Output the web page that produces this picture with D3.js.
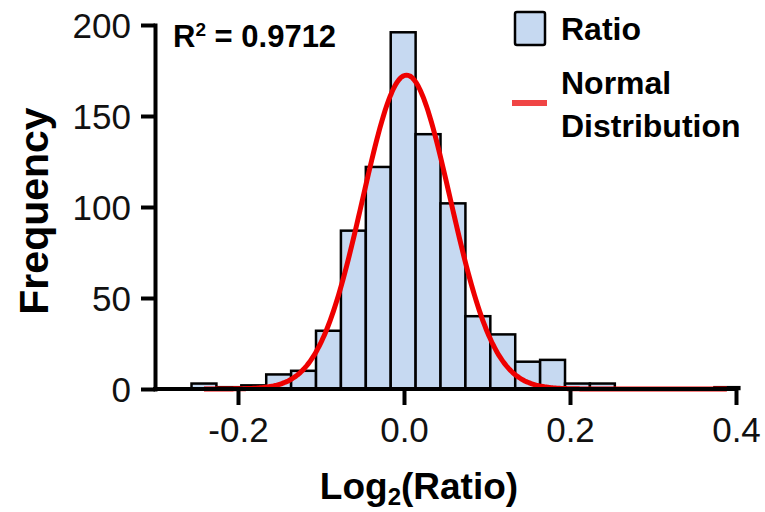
<!DOCTYPE html>
<html>
<head>
<meta charset="utf-8">
<script src="https://cdn.jsdelivr.net/npm/d3@7"></script>
<style>
  body { margin: 0; background: #fff; }
  text { font-family: "Liberation Sans", Arial, sans-serif; }
</style>
</head>
<body>
<div id="chart"></div>
<script>
// histogram bins (centre of each bin) and counts
const binCenters = [-0.241, -0.211, -0.181, -0.151, -0.121, -0.091, -0.061, -0.031, -0.001,
    0.029, 0.059, 0.089, 0.119, 0.149, 0.179, 0.209, 0.239, 0.269, 0.299, 0.329, 0.359, 0.389];
const counts = [3, 1, 2, 8, 10, 32, 87, 122, 196,
    140, 102, 40, 30, 15, 16, 3, 3, 0, 0, 0, 0, 1];
const binWidth = 0.03;

// gaussian fit (normal distribution curve)
const fitMean = 0.003;
const fitSd = 0.0527;
const fitPeak = 172.5;
const rSquared = "0.9712";

const xTicks = [-0.2, 0.0, 0.2, 0.4];
const yTicks = [0, 50, 100, 150, 200];
const legendLabels = ["Ratio", "Normal", "Distribution"];

const width = 765, height = 512;
const svg = d3.select("#chart")
    .append("svg")
    .attr("width", width)
    .attr("height", height);

const xScale = d3.scaleLinear().domain([-0.3, 0.4]).range([155, 736]);
const yScale = d3.scaleLinear().domain([0, 200]).range([389, 25]);

// bars
svg.append("g")
    .selectAll("rect")
    .data(binCenters.map((c, i) => ({c: c, n: counts[i]})).filter(d => d.n > 0))
    .enter()
    .append("rect")
    .attr("x", d => xScale(d.c - binWidth / 2))
    .attr("y", d => yScale(d.n))
    .attr("width", d => xScale(d.c + binWidth / 2) - xScale(d.c - binWidth / 2))
    .attr("height", d => yScale(0) - yScale(d.n))
    .attr("fill", "#c6d9f1")
    .attr("stroke", "#000")
    .attr("stroke-width", 2.5);

// normal curve
const curveX = d3.range(binCenters[0], binCenters[binCenters.length - 1] + 0.0005, 0.002);
const line = d3.line()
    .x(d => xScale(d))
    .y(d => yScale(fitPeak * Math.exp(-Math.pow(d - fitMean, 2) / (2 * fitSd * fitSd))))
    .curve(d3.curveBasis);
svg.append("path")
    .datum(curveX)
    .attr("d", line)
    .attr("fill", "none")
    .attr("stroke", "#ee0000")
    .attr("stroke-width", 5)
    .attr("stroke-linejoin", "round");

// axes
const xAxis = d3.axisBottom(xScale).tickValues(xTicks)
    .tickFormat(d => d3.format(".1f")(d).replace("\u2212", "-"))
    .tickSize(16).tickSizeOuter(0).tickPadding(12);
const gx = svg.append("g").attr("transform", "translate(0,389)").call(xAxis);

const yAxis = d3.axisLeft(yScale).tickValues(yTicks).tickSize(14).tickSizeOuter(0).tickPadding(10);
const gy = svg.append("g").attr("transform", "translate(155,0)").call(yAxis);

[gx, gy].forEach(g => {
    g.select(".domain").attr("stroke", "#000").attr("stroke-width", 4).attr("stroke-linecap", "square");
    g.selectAll(".tick line").attr("stroke", "#000").attr("stroke-width", 4);
    g.selectAll(".tick text").attr("fill", "#111").style("font-size", "35px")
        .style("font-family", "'Liberation Sans', Arial, sans-serif");
});
gx.select(".domain").attr("d", "M155,0H736");
gy.selectAll(".tick text").attr("dy", "0.36em");

// axis titles
svg.append("text")
    .attr("transform", "translate(48,211) rotate(-90)")
    .attr("text-anchor", "middle")
    .style("font-size", "41px")
    .style("font-weight", "bold")
    .text("Frequency");

const xt = svg.append("text")
    .attr("x", 419)
    .attr("y", 499)
    .attr("text-anchor", "middle")
    .style("font-size", "37px")
    .style("font-weight", "bold");
xt.append("tspan").text("Log");
xt.append("tspan").attr("dy", 6).style("font-size", "24px").text("2");
xt.append("tspan").attr("dy", -6).text("(Ratio)");

// R squared
const rt = svg.append("text")
    .attr("x", 173)
    .attr("y", 47)
    .style("font-size", "31px")
    .style("font-weight", "bold");
rt.append("tspan").text("R");
rt.append("tspan").attr("dy", -11).style("font-size", "19px").text("2");
rt.append("tspan").attr("dy", 11).text(" = " + rSquared);

// legend
const legend = svg.append("g");
legend.append("rect")
    .attr("x", 515).attr("y", 12)
    .attr("width", 30).attr("height", 33)
    .attr("rx", 2)
    .attr("fill", "#c6d9f1")
    .attr("stroke", "#000")
    .attr("stroke-width", 2.5);
legend.append("line")
    .attr("x1", 512).attr("x2", 547)
    .attr("y1", 103).attr("y2", 103)
    .attr("stroke", "#f04545")
    .attr("stroke-width", 6);
legend.selectAll("text.lg")
    .data(legendLabels)
    .enter()
    .append("text")
    .attr("class", "lg")
    .attr("x", 561)
    .attr("y", (d, i) => [40, 94, 137][i])
    .style("font-size", "32px")
    .style("font-weight", "bold")
    .text(d => d);
</script>
</body>
</html>
